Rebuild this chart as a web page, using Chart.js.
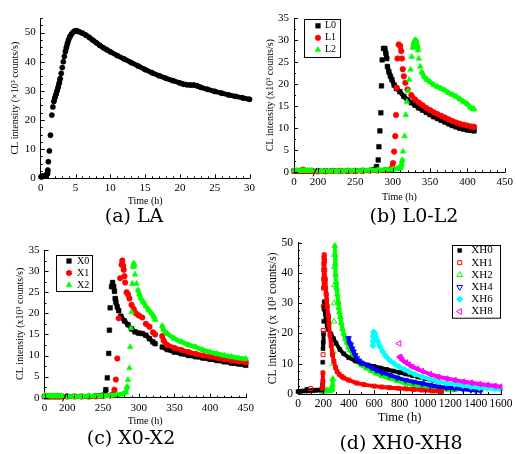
<!DOCTYPE html>
<html>
<head>
<meta charset="utf-8">
<script src="https://cdn.jsdelivr.net/npm/chart.js@4.4.1/dist/chart.umd.min.js"></script>
<style>
body { margin: 0; background: #fff; width: 516px; height: 454px; position: relative; overflow: hidden; }
canvas { position: absolute; }
.cap { position: absolute; font-family: 'DejaVu Serif', serif; font-size: 19px; color: #000; transform: translate(-50%, -50%); white-space: nowrap; }
</style>
</head>
<body>
<canvas id="chartA" width="258" height="210" style="left:0;top:0"></canvas>
<canvas id="chartB" width="258" height="210" style="left:258px;top:0"></canvas>
<canvas id="chartC" width="258" height="210" style="left:0;top:225px"></canvas>
<canvas id="chartD" width="258" height="210" style="left:258px;top:225px"></canvas>
<div class="cap" style="left:134px;top:215px">(a) LA</div>
<div class="cap" style="left:414px;top:215px">(b) L0-L2</div>
<div class="cap" style="left:131px;top:437px">(c) X0-X2</div>
<div class="cap" style="left:401px;top:442px">(d) XH0-XH8</div>
<script>
"use strict"

// (a) LA
const laTime = [0.05, 0.15, 0.25, 0.35, 0.45, 0.55, 0.65, 0.75, 0.85, 0.95, 1.02, 1.1, 1.25, 1.4, 1.6, 1.75, 1.9, 2.05, 2.2, 2.35, 2.5, 2.65, 2.8, 2.95, 3.1, 3.25, 3.4, 3.55, 3.7, 3.85, 4.0, 4.2, 4.4, 4.6, 4.8, 5.0, 5.2, 5.5, 6, 6.5, 7, 7.5, 8, 8.5, 9, 9.5, 10, 11, 12, 13, 14, 15, 16, 17, 18, 19, 20, 20.5, 21, 21.5, 22, 22.5, 23, 24, 25, 26, 27, 28, 29, 30]
const laValue = [0.5, 0.6, 0.7, 0.7, 0.8, 0.8, 0.9, 1.0, 1.2, 1.6, 2.8, 5.7, 9.4, 14.8, 21.7, 24.5, 26.4, 27.7, 28.8, 30, 31.2, 32.6, 34.2, 36, 38, 40, 41.8, 43.5, 45, 46.3, 47.5, 48.6, 49.4, 50, 50.4, 50.6, 50.6, 50.3, 49.8, 49.1, 48.3, 47.4, 46.5, 45.6, 44.8, 44.1, 43.4, 42.1, 40.9, 39.7, 38.5, 37.3, 36.2, 35.2, 34.3, 33.5, 32.7, 32.3, 32.1, 32, 32, 31.7, 31.2, 30.5, 29.8, 29.2, 28.6, 28.1, 27.6, 27.1]

// (b) L0-L2
const l0Time = [0, 3, 6, 9, 12, 15, 18, 21, 24, 200, 210, 220, 230, 240, 250, 260, 268, 274, 276, 278.4, 280.7, 281.6, 282.9, 284.2, 285.1, 286, 287.8, 289.6, 290.9, 292.2, 293, 295, 297, 299, 302, 305, 309.6, 315, 320, 325, 330, 335, 340, 345, 350, 355, 360, 365, 370, 375, 380, 385, 390, 395, 400, 405, 409]
const l0Value = [0.3, 0.3, 0.3, 0.3, 0.3, 0.3, 0.3, 0.3, 0.3, 0.3, 0.3, 0.3, 0.3, 0.3, 0.3, 0.4, 0.4, 0.5, 0.6, 1.3, 2.8, 5.8, 9.4, 13.5, 19.6, 25.5, 28.1, 28.1, 27, 25.8, 24, 22.8, 21.8, 21, 19.8, 19, 18.3, 17.2, 16.4, 15.8, 15.2, 14.6, 14.1, 13.6, 13.1, 12.6, 12.2, 11.8, 11.4, 11, 10.6, 10.3, 10, 9.8, 9.6, 9.5, 9.4]
const l1Time = [0, 3, 6, 9, 12, 15, 18, 21, 24, 200, 210, 220, 230, 240, 250, 260, 270, 280, 290, 296, 299, 300.5, 302, 303.5, 304.5, 305.5, 306.5, 308, 310, 311.5, 312.5, 313.5, 315, 317, 320, 325, 330, 335, 340, 345, 350, 355, 360, 365, 370, 375, 380, 385, 390, 395, 400, 405, 409]
const l1Value = [0.3, 0.3, 0.3, 0.3, 0.6, 0.3, 0.3, 0.3, 0.3, 0.2, 0.2, 0.3, 0.3, 0.3, 0.3, 0.3, 0.4, 0.4, 0.5, 0.6, 0.8, 2.1, 4.7, 8.2, 13, 19.2, 25.8, 29, 28.7, 27.5, 25.8, 23.4, 21.8, 20.3, 18.8, 17.5, 16.5, 15.8, 15.2, 14.6, 14.1, 13.6, 13.2, 12.8, 12.4, 12, 11.6, 11.3, 11, 10.8, 10.6, 10.4, 10.3]
const l2Time = [0, 3, 6, 9, 12, 15, 18, 21, 24, 200, 210, 220, 230, 240, 250, 260, 270, 280, 290, 300, 305, 308, 310, 311, 312, 313, 314, 316, 317.5, 319, 320.5, 322, 324, 325.5, 327, 328.5, 330, 331.5, 333, 334, 335, 337, 339, 342, 346, 350, 355, 360, 365, 370, 375, 380, 385, 390, 395, 400, 404, 407, 409]
const l2Value = [0.4, 0.4, 0.4, 0.4, 0.4, 0.4, 0.4, 0.4, 0.4, 0.3, 0.3, 0.3, 0.3, 0.4, 0.4, 0.4, 0.5, 0.5, 0.6, 0.7, 0.8, 0.9, 1.0, 1.3, 1.8, 2.8, 4.7, 8.2, 13, 16, 18.5, 21, 23.3, 26.2, 28.3, 29.5, 30, 29.9, 28.8, 27.7, 25.8, 24, 22.7, 21.7, 21, 20.5, 19.8, 19.4, 19, 18.6, 18, 17.6, 17.2, 16.6, 16, 15.5, 14.7, 14.4, 14.3]

// (c) X0-X2  (null = no data in the gap)
const x0Time = [0, 3, 6, 9, 12, 15, 18, 21, 24, 200, 210, 220, 230, 240, 248, 252, 254, 256, 258, 259, 260, 262, 263.5, 265, 266, 267, 268, 270, 272, 275, 280, 285, 290, 295, 300, 305, 310, 315, 320, 323, 328, 333, 340, 350, 360, 370, 380, 390, 400, 410, 420, 430, 440, 450]
const x0Value = [0.3, 0.3, 0.3, 0.3, 0.3, 0.3, 0.3, 0.3, 0.3, 0.3, 0.3, 0.3, 0.3, 0.4, 0.5, 0.7, 1.9, 4.7, 10.5, 16, 21.3, 26.3, 27.3, 26.3, 25.2, 23.5, 22.6, 21.5, 20.6, 19.3, 18.2, 17.3, 16.3, 15.6, 15.3, 15.2, 14.8, 14, 13.2, 12.8, null, 12, 11.4, 10.8, 10.4, 10, 9.7, 9.4, 9.1, 8.8, 8.5, 8.2, 8, 7.7]
const x1Time = [0, 3, 6, 9, 12, 15, 18, 21, 24, 200, 210, 220, 230, 240, 250, 260, 264, 266, 268, 270, 272, 274, 276, 277, 278, 279, 280, 281, 283, 285, 287, 290, 293, 296, 300, 305, 310, 315, 320, 323, 328, 333, 335, 340, 350, 360, 370, 380, 390, 400, 410, 420, 430, 440, 450]
const x1Value = [0.3, 0.3, 0.3, 0.3, 0.3, 0.3, 0.3, 0.3, 0.3, 0.3, 0.3, 0.3, 0.3, 0.3, 0.4, 0.5, 0.7, 1.9, 4.3, 9.3, 18.8, 28.3, 31.5, 32.5, 31.3, 30.3, 28.8, 27.3, 25, 24.5, 23.5, 22, 21, 20, 19.5, 19, 17.5, 16.8, 15.5, 15, null, 14.6, 13.5, 12.5, 11.8, 11.3, 10.8, 10.4, 10, 9.7, 9.4, 9.1, 8.8, 8.6, 8.4]
const x2Time = [0, 3, 6, 9, 12, 15, 18, 21, 24, 200, 210, 220, 230, 240, 250, 260, 270, 278, 282, 284, 285, 287, 288, 289, 290, 291, 292, 293, 294, 295, 297, 299, 301, 303, 306, 310, 314, 318, 321, 323, 328, 333, 335, 340, 350, 360, 370, 380, 390, 400, 410, 420, 430, 440, 450]
const x2Value = [0.4, 0.4, 0.4, 0.4, 0.4, 0.4, 0.4, 0.4, 0.4, 0.3, 0.3, 0.3, 0.4, 0.4, 0.5, 0.5, 0.7, 0.9, 1.3, 2.6, 4.2, 7, 12, 16.5, 20.3, 27, 31, 31.8, 31.3, 29.2, 27, 25.5, 24.5, 23.5, 22.8, 21.7, 20.8, 20, 19.3, 18.5, null, 17, 16, 15.2, 14, 13.2, 12.5, 12, 11.3, 10.8, 10.4, 10, 9.7, 9.4, 9.2]

// (d) XH0-XH8
const xh0Time = [0, 20, 40, 60, 70, 80, 100, 120, 140, 160, 180, 190, 193, 195, 197, 199, 201, 203, 205, 207, 210, 215, 220, 230, 240, 260, 280, 300, 330, 360, 400, 450, 500, 550, 600, 650, 700, 750, 800, 850, 900, 950, 1000, 1050, 1100]
const xh0Value = [0.8, 0.9, 1.0, 1.0, 1.5, 1.0, 1.1, 1.2, 1.2, 1.3, 1.3, 1.4, 3, 10.5, 15, 17, 20, 24, 28, 30.5, 29, 26.5, 24.5, 22.5, 21.3, 19.8, 18.3, 16.8, 14.7, 13.3, 12, 11, 10.2, 9.6, 9.1, 8.6, 8.1, 7.6, 7.1, 6.6, 6.1, 5.6, 5.1, 4.6, 4.2]
const xh1Time = [100, 190, 195, 196, 197, 198, 199, 200, 201, 202, 203, 204, 205, 206, 208, 211, 214, 218, 222, 226, 231, 237, 244, 252, 262, 272, 283, 295, 308, 325, 345, 360, 400, 463, 520, 600, 660, 720, 790, 850, 910, 977, 1060, 1131]
const xh1Value = [1.8, 1.9, 2.5, 4.2, 7, 13, 21, 29, 35, 38, 41, 43, 45, 46, 44, 41, 38, 35, 33, 31, 29, 26, 23, 19.5, 16, 13, 10.8, 8.8, 7.4, 6.5, 5.8, 5.3, 4.6, 3.6, 3.1, 2.6, 2.3, 2.1, 1.9, 1.7, 1.5, 1.3, 1.0, 0.8]
const xh2Time = [190, 200, 210, 220, 230, 240, 250, 260, 268, 272, 275, 277, 279, 281, 283, 285, 287, 288, 289, 290, 292, 294, 296, 300, 305, 310, 316, 322, 328, 334, 342, 350, 360, 373, 386, 400, 411, 430, 463, 500, 540, 580, 617, 660, 720, 780, 848, 910, 977, 1050, 1131, 1180, 1234]
const xh2Value = [0.8, 1.0, 0.9, 1.0, 1.2, 1.0, 1.1, 1.3, 1.5, 3, 5, 10, 14, 18, 24, 30, 36, 42, 46, 49, 46, 43, 39.5, 37, 35, 33, 30.5, 28.5, 27, 25.5, 23.5, 21.5, 20, 18.2, 17, 15.5, 14.5, 12.8, 10.7, 9.5, 8.5, 7.6, 6.8, 6, 5.2, 4.4, 3.5, 3, 2.4, 2, 1.7, 1.5, 1.3]
const xh4Time = [398, 406, 416, 426, 437, 450, 463, 480, 500, 540, 580, 617, 660, 720, 780, 848, 910, 977, 1040, 1105, 1170, 1234, 1300, 1362, 1400, 1440]
const xh4Value = [18.4, 16.7, 16.2, 15, 14, 12.8, 11.8, 11, 10.3, 9.6, 8.7, 7.9, 7.1, 6.3, 5.4, 4.6, 4, 3.5, 2.9, 2.4, 2.1, 1.9, 1.6, 1.3, 1.2, 1.1]
const xh6Time = [590, 592, 594, 596, 598, 600, 605, 610, 620, 630, 645, 668, 690, 720, 760, 797, 840, 874, 920, 977, 1040, 1105, 1170, 1234, 1300, 1362, 1430, 1491, 1550, 1594]
const xh6Value = [16, 17.5, 19, 20.5, 19.5, 20.3, 19.8, 19, 18, 17.3, 15.7, 14, 12.6, 11.2, 10, 9, 8.1, 7.4, 6.5, 5.7, 4.9, 4.1, 3.6, 3.2, 2.8, 2.4, 2.1, 1.9, 1.7, 1.5]
const xh8Time = [797, 802, 812, 823, 850, 875, 900, 940, 977, 1040, 1105, 1170, 1234, 1300, 1362, 1430, 1491, 1550, 1594]
const xh8Value = [16.7, 12.3, 11.8, 11.2, 10.4, 9.7, 9, 8.3, 7.6, 6.6, 5.7, 5.1, 4.6, 4.1, 3.7, 3.3, 3, 2.7, 2.4]

// tick labels of the broken time axis in (b) and (c)
const breakTicks = [0, 200, 250, 300, 350, 400, 450]

const SERIF = "'Liberation Serif', 'Times New Roman', serif"
Chart.defaults.font.family = SERIF
Chart.defaults.color = '#000'
Chart.defaults.animation = false

// axis with a break: 0..~30 h, then 200..450 h
const BREAK_GAP = 168
class BrokenScale extends Chart.LinearScale {
    getPixelForValue(value) {
        const u = value < 100 ? value : value - BREAK_GAP
        return this.left + this.width * u / (this.max - BREAK_GAP)
    }
}
BrokenScale.id = 'broken'
BrokenScale.defaults = Chart.LinearScale.defaults
Chart.register(BrokenScale)

const range = (a, b, step) => {
    const out = []
    for (let v = a; v <= b + 1e-9; v += step) out.push(v)
    return out
}

const toPoints = (times, values) => times.map((t, i) => ({ x: t, y: values[i] }))

// hide the joining line where points are far apart (rise, gaps)
const splitAt = (dyMax, dxMax) => ({
    borderColor: ctx => (Math.abs(ctx.p1.parsed.y - ctx.p0.parsed.y) > dyMax ||
        ctx.p1.parsed.x - ctx.p0.parsed.x > dxMax) ? 'rgba(0,0,0,0)' : undefined
})

const series = (label, times, values, color, style, extra) => Object.assign({
    label: label,
    data: toPoints(times, values),
    showLine: true,
    clip: false,
    borderColor: color,
    borderWidth: 5,
    borderJoinStyle: 'round',
    borderCapStyle: 'round',
    pointStyle: style,
    pointRadius: 3,
    pointRotation: 0,
    pointBackgroundColor: color,
    pointBorderColor: color,
    pointBorderWidth: 0.5
}, extra)

const xAxis = (c) => ({
    type: c.type || 'linear',
    min: c.min,
    max: c.max,
    grid: { display: false, drawTicks: false },
    border: { display: true, color: '#000', width: 1 },
    ticks: { stepSize: c.step, font: { size: c.font }, padding: c.pad, maxRotation: 0, autoSkip: false, color: '#000', callback: v => String(v) },
    title: { display: true, text: 'Time (h)', font: { size: c.titleFont }, padding: { top: 0, bottom: c.titlePad } },
    afterFit: s => { s.height = c.height },
    afterBuildTicks: s => { if (c.ticks) s.ticks = c.ticks.map(v => ({ value: v })) }
})

const yAxis = (c) => ({
    min: 0,
    max: c.max,
    grid: { display: false, drawTicks: false },
    border: { display: true, color: '#000', width: 1 },
    ticks: { stepSize: 5, font: { size: c.font }, padding: c.pad, color: '#000', callback: v => String(v) },
    title: { display: true, text: c.title, font: { size: c.titleFont }, padding: { top: c.titlePad, bottom: 0 } },
    afterFit: s => { s.width = c.width }
})

// inward major and minor tick marks
const tickMarks = {
    id: 'tickMarks',
    afterDraw(chart, args, o) {
        const ctx = chart.ctx
        ctx.save()
        ctx.strokeStyle = '#000'
        ctx.lineWidth = 1
        const xs = chart.scales.x
        const ys = chart.scales.y
        const xTick = (v, len) => {
            const p = Math.round(xs.getPixelForValue(v)) + 0.5
            ctx.beginPath()
            ctx.moveTo(p, xs.top)
            ctx.lineTo(p, xs.top - len)
            ctx.stroke()
        }
        const yTick = (v, len) => {
            const p = Math.round(ys.getPixelForValue(v)) + 0.5
            ctx.beginPath()
            ctx.moveTo(ys.right, p)
            ctx.lineTo(ys.right + len, p)
            ctx.stroke()
        }
        xs.ticks.forEach(t => xTick(t.value, 4))
        ys.ticks.forEach(t => yTick(t.value, 4))
        o.xMinor.forEach(v => xTick(v, 2))
        o.yMinor.forEach(v => yTick(v, 2))
        if (o.breakAt !== undefined) {
            const p = xs.getPixelForValue(o.breakAt)
            ctx.beginPath()
            ctx.moveTo(p - 2, xs.top + 4)
            ctx.lineTo(p + 2, xs.top - 4)
            ctx.stroke()
        }
        ctx.restore()
    }
}

// boxed legend inside the plot
const legendBox = {
    id: 'legendBox',
    afterDraw(chart, args, o) {
        if (!o.show) return
        const ctx = chart.ctx
        ctx.save()
        ctx.strokeStyle = '#000'
        ctx.lineWidth = 1
        ctx.strokeRect(Math.round(o.x) + 0.5, Math.round(o.y) + 0.5, o.w, o.h)
        ctx.font = o.font + 'px ' + SERIF
        ctx.textBaseline = 'middle'
        chart.data.datasets.forEach((ds, i) => {
            const y = o.y + o.first + i * o.row
            ctx.fillStyle = ds.pointBackgroundColor
            ctx.strokeStyle = ds.pointBorderColor
            ctx.lineWidth = ds.pointBorderWidth
            Chart.helpers.drawPoint(ctx, {
                pointStyle: ds.pointStyle, rotation: ds.pointRotation,
                radius: ds.pointRadius, borderWidth: ds.pointBorderWidth
            }, o.markX, y)
            ctx.fillStyle = '#000'
            ctx.fillText(ds.label, o.textX, y)
        })
        ctx.restore()
    }
}

const makeChart = (id, datasets, scales, padding, ticksOpt, legendOpt) => new Chart(document.getElementById(id), {
    type: 'scatter',
    data: { datasets: datasets },
    options: {
        responsive: false,
        animation: false,
        events: [],
        layout: { padding: padding },
        scales: scales,
        plugins: {
            legend: { display: false },
            tooltip: { enabled: false },
            tickMarks: ticksOpt,
            legendBox: legendOpt
        }
    },
    plugins: [tickMarks, legendBox]
})

// (a)
makeChart('chartA',
    [series('LA', laTime, laValue, '#000', 'circle', { pointRadius: 2.6, borderWidth: 5, segment: splitAt(1.65, 99) })],
    {
        x: xAxis({ min: 0, max: 30, step: 5, font: 11, pad: 3, titleFont: 10, titlePad: 3, height: 31.7 }),
        y: yAxis({ max: 55, font: 11, pad: 5, title: 'CL intensity (\u00d710\u00b3 counts/s)', titleFont: 10, titlePad: 9, width: 40.7 })
    },
    { left: 0, right: 6, top: 18, bottom: 0 },
    { xMinor: range(0, 30, 1), yMinor: range(0, 55, 2.5) },
    { show: false })

// (b)
makeChart('chartB',
    [
        series('L0', l0Time, l0Value, '#000000', 'rect', { pointRadius: 3.3, borderWidth: 4.6, order: 3, segment: splitAt(1.3, 20) }),
        series('L1', l1Time, l1Value, '#ff0000', 'circle', { pointRadius: 2.8, borderWidth: 4.6, order: 2, segment: splitAt(1.3, 20) }),
        series('L2', l2Time, l2Value, '#00ff00', 'triangle', { pointRadius: 3.4, borderWidth: 4.6, order: 1, segment: splitAt(1.3, 20) })
    ],
    {
        x: xAxis({ type: 'broken', min: 0, max: 450, font: 11, pad: 3, titleFont: 10, titlePad: 7, height: 37.7, ticks: breakTicks }),
        y: yAxis({ max: 35, font: 11, pad: 5, title: 'CL intensity (x10\u00b3 counts/s)', titleFont: 10, titlePad: 6, width: 36 })
    },
    { left: 0, right: 10, top: 18, bottom: 0 },
    { xMinor: range(200, 450, 10), yMinor: range(0, 35, 2.5), breakAt: 28 },
    { show: true, x: 45.7, y: 19.3, w: 36, h: 38, first: 6.5, row: 12, markX: 60, textX: 67, font: 10 })

// (c)
makeChart('chartC',
    [
        series('X0', x0Time, x0Value, '#000000', 'rect', { pointRadius: 3.3, borderWidth: 4.6, order: 3, segment: splitAt(1.3, 20) }),
        series('X1', x1Time, x1Value, '#ff0000', 'circle', { pointRadius: 2.8, borderWidth: 4.6, order: 2, segment: splitAt(1.3, 20) }),
        series('X2', x2Time, x2Value, '#00ff00', 'triangle', { pointRadius: 3.4, borderWidth: 4.6, order: 1, segment: splitAt(1.3, 20) })
    ],
    {
        x: xAxis({ type: 'broken', min: 0, max: 450, font: 11, pad: 4, titleFont: 10, titlePad: 8, height: 37.3, ticks: breakTicks }),
        y: yAxis({ max: 35, font: 11, pad: 5, title: 'CL intensity (x10\u00b3 counts/s)', titleFont: 10, titlePad: 14, width: 44.5 })
    },
    { left: 0, right: 10, top: 25, bottom: 0 },
    { xMinor: range(200, 450, 10), yMinor: range(0, 35, 2.5), breakAt: 28 },
    { show: true, x: 56, y: 30, w: 36, h: 36, first: 6, row: 12, markX: 69, textX: 77, font: 10 })

// (d)
const open = { pointBackgroundColor: 'rgba(0,0,0,0)', pointBorderWidth: 1 }
makeChart('chartD',
    [
        series('XH0', xh0Time, xh0Value, '#000000', 'rect', { pointRadius: 2.8, borderWidth: 4, order: 5, segment: splitAt(3.6, 85) }),
        series('XH1', xh1Time, xh1Value, '#ff0000', 'rect', Object.assign({ pointRadius: 2.8, borderWidth: 4, order: 2, segment: splitAt(3.6, 85) }, open)),
        series('XH2', xh2Time, xh2Value, '#00ff00', 'triangle', Object.assign({ pointRadius: 3.3, borderWidth: 4, order: 6, segment: splitAt(3.6, 85) }, open)),
        series('XH4', xh4Time, xh4Value, '#0000ff', 'triangle', Object.assign({ pointRadius: 3.3, pointRotation: 180, borderWidth: 4, order: 4, segment: splitAt(3.6, 85) }, open)),
        series('XH6', xh6Time, xh6Value, '#00ffff', 'rectRot', { pointRadius: 3.3, borderWidth: 4, order: 3, segment: splitAt(3.6, 85) }),
        series('XH8', xh8Time, xh8Value, '#ff00ff', 'triangle', Object.assign({ pointRadius: 3.3, pointRotation: 270, borderWidth: 4, order: 1, segment: splitAt(3.6, 85) }, open))
    ],
    {
        x: xAxis({ min: 0, max: 1600, step: 200, font: 11.5, pad: 3.5, titleFont: 12.5, titlePad: 9.5, height: 41 }),
        y: yAxis({ max: 50, font: 11.5, pad: 5, title: 'CL intensity (x 10\u00b3 counts/s)', titleFont: 11.5, titlePad: 8.4, width: 40 })
    },
    { left: 0, right: 11, top: 17.7, bottom: 0 },
    { xMinor: range(0, 1600, 100), yMinor: range(0, 50, 2.5) },
    { show: true, x: 194.3, y: 20, w: 48, h: 72.7, first: 5.5, row: 12.2, markX: 201.7, textX: 213.3, font: 11 })
</script>
</body>
</html>
